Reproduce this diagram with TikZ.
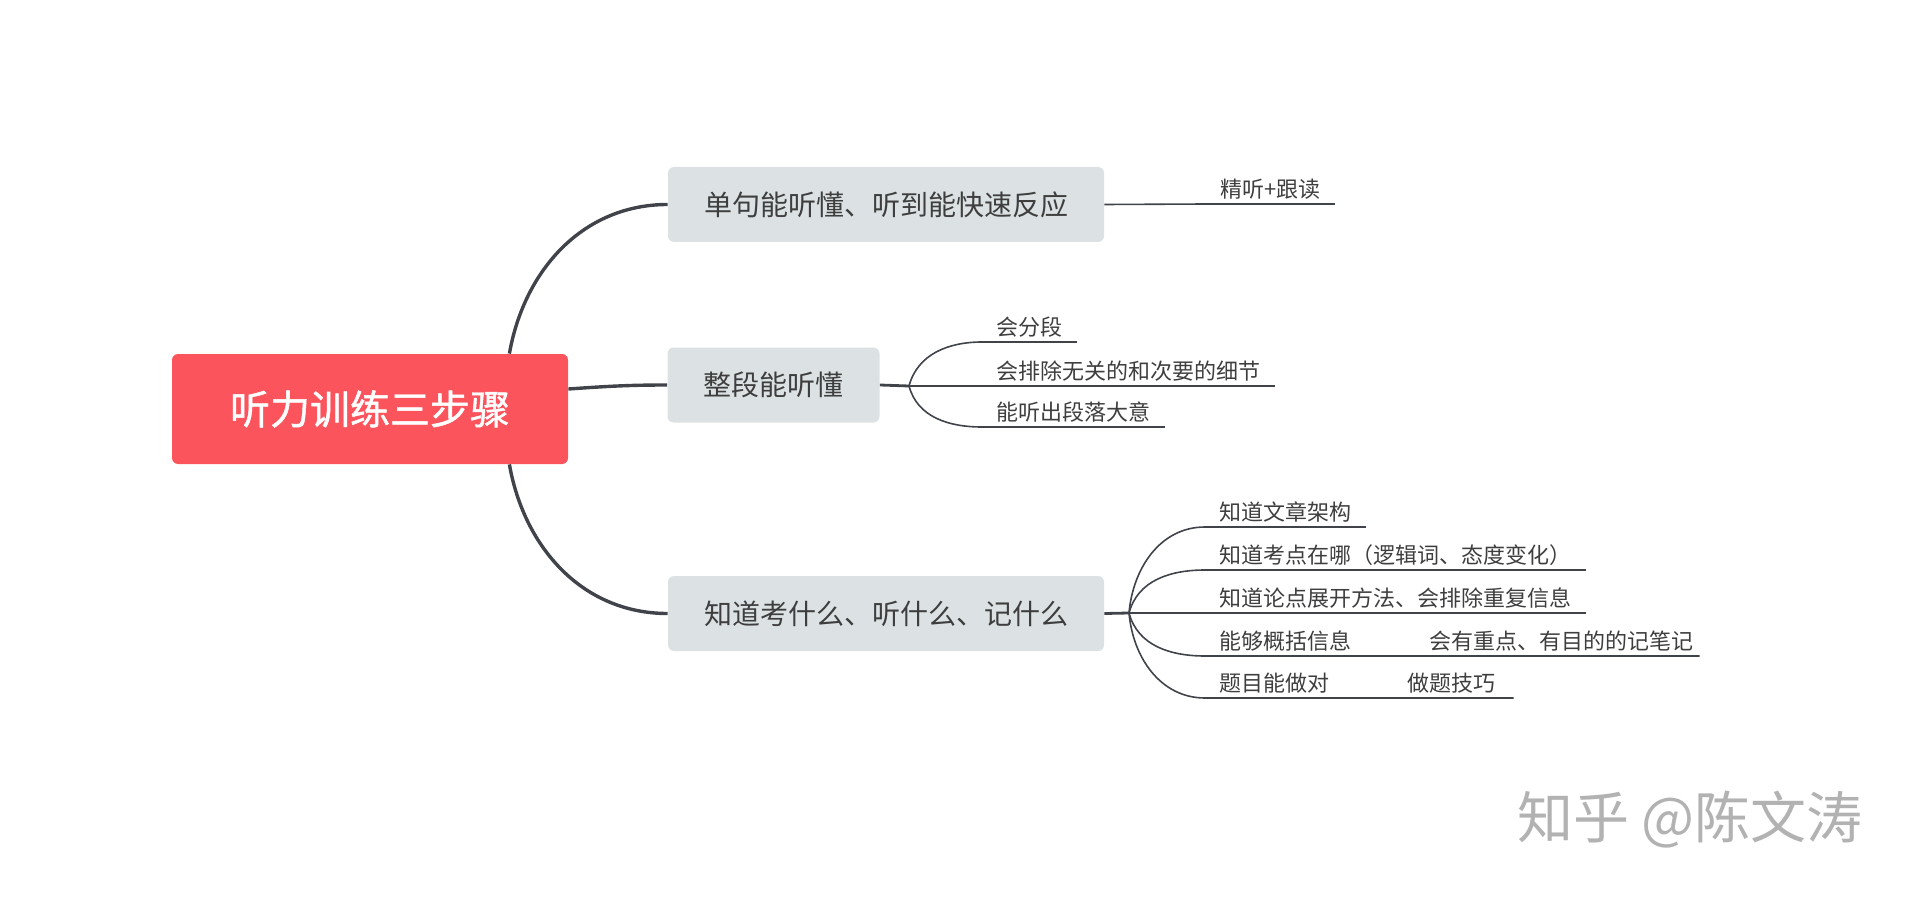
\documentclass[tikz,border=0pt]{standalone}
\usepackage{fontspec}
\setmainfont{Noto Sans CJK SC}
\newfontfamily\rootfont[FakeBold=1.2]{Noto Sans CJK SC}
\usepackage{xcolor}
\usepackage{tikz}
\usetikzlibrary{positioning,calc}
\definecolor{rootred}{RGB}{251,84,93}
\definecolor{boxgray}{RGB}{220,226,228}
\definecolor{linegray}{RGB}{64,68,74}
\definecolor{textgray}{RGB}{62,62,62}
\definecolor{wmgray}{RGB}{178,178,178}
\tikzset{
  rootbox/.style={
    rectangle,
    rounded corners=3pt,
    fill=rootred,
    minimum width=198pt,
    minimum height=55pt,
    align=center,
    text=white,
    font=\fontsize{20}{24}\selectfont\rootfont
  },
  topicbox/.style={
    rectangle,
    rounded corners=3pt,
    fill=boxgray,
    inner xsep=18pt,
    minimum height=37.5pt,
    align=center,
    text=textgray,
    font=\fontsize{14}{16}\selectfont
  },
  subitem/.style={
    anchor=south west,
    inner xsep=7pt,
    inner ysep=2pt,
    align=left,
    text=textgray,
    font=\fontsize{11}{13}\selectfont
  },
  wmtext/.style={
    text=wmgray,
    font=\fontsize{28}{32}\selectfont
  },
  link/.style={line width=1.7pt, linegray},
  stem/.style={line width=1.4pt, linegray},
  sublink/.style={line width=0.8pt, linegray}
}
\begin{document}
\begin{tikzpicture}[x=0.5pt,y=-0.5pt]
\useasboundingbox (0,0) rectangle (1914,898);
% main topics
\node[rootbox] (root) at (370,409) {听力训练三步骤};
\node[topicbox] (t1) at (886,204.5) {单句能听懂、听到能快速反应};
\node[topicbox] (t2) at (773.5,385) {整段能听懂};
\node[topicbox] (t3) at (886,613.5) {知道考什么、听什么、记什么};
\draw[link] ($(root.north east)+(-59,0)$) to[out=80,in=180] (t1.west);
\draw[link] ($(root.east)+(0,-20)$) to[out=4,in=180] (t2.west);
\draw[link] ($(root.south east)+(-59,0)$) to[out=-80,in=180] (t3.west);
% first step
\node[subitem, text width=50pt] (s11) at (1206,204) {精听+跟读};
\draw[sublink] (t1.east) -- (s11.south west) -- (s11.south east);
% second step
\coordinate (b2) at (909,386);
\node[subitem, text width=33pt] (s21) at (982,342) {会分段};
\node[subitem, text width=132pt] (s22) at (982,386) {会排除无关的和次要的细节};
\node[subitem, text width=77pt] (s23) at (982,427) {能听出段落大意};
\draw[stem] (t2.east) -- (b2);
\draw[sublink] (b2) to[out=75,in=180] (s21.south west) -- (s21.south east);
\draw[sublink] (b2) -- (s22.south west) -- (s22.south east);
\draw[sublink] (b2) to[out=-75,in=180] (s23.south west) -- (s23.south east);
% third step
\coordinate (b3) at (1129,613);
\node[subitem, text width=66pt] (s31) at (1205,527) {知道文章架构};
\node[subitem, text width=176pt] (s32) at (1205,570) {知道考点在哪（逻辑词、态度变化）};
\node[subitem, text width=176pt] (s33) at (1205,613) {知道论点展开方法、会排除重复信息};
\node[subitem, text width=66pt] (s34) at (1205,656) {能够概括信息};
\node[subitem, text width=128pt, right=24.5pt of s34.south east, anchor=south west] (s34a) {会有重点、有目的的记笔记};
\node[subitem, text width=55pt] (s35) at (1205,698) {题目能做对};
\node[subitem, text width=46pt, right=24.5pt of s35.south east, anchor=south west] (s35a) {做题技巧};
\draw[stem] (t3.east) -- (b3);
\draw[sublink] (b3) to[out=85,in=180] (s31.south west) -- (s31.south east);
\draw[sublink] (b3) to[out=75,in=180] (s32.south west) -- (s32.south east);
\draw[sublink] (b3) -- (s33.south west) -- (s33.south east);
\draw[sublink] (b3) to[out=-75,in=180] (s34.south west) -- (s34.south east) -- (s34a.south west) -- (s34a.south east);
\draw[sublink] (b3) to[out=-85,in=180] (s35.south west) -- (s35.south east) -- (s35a.south west) -- (s35a.south east);
% watermark
\node[wmtext] (wm) at (1690,820) {知乎 @陈文涛};
\end{tikzpicture}
\end{document}
